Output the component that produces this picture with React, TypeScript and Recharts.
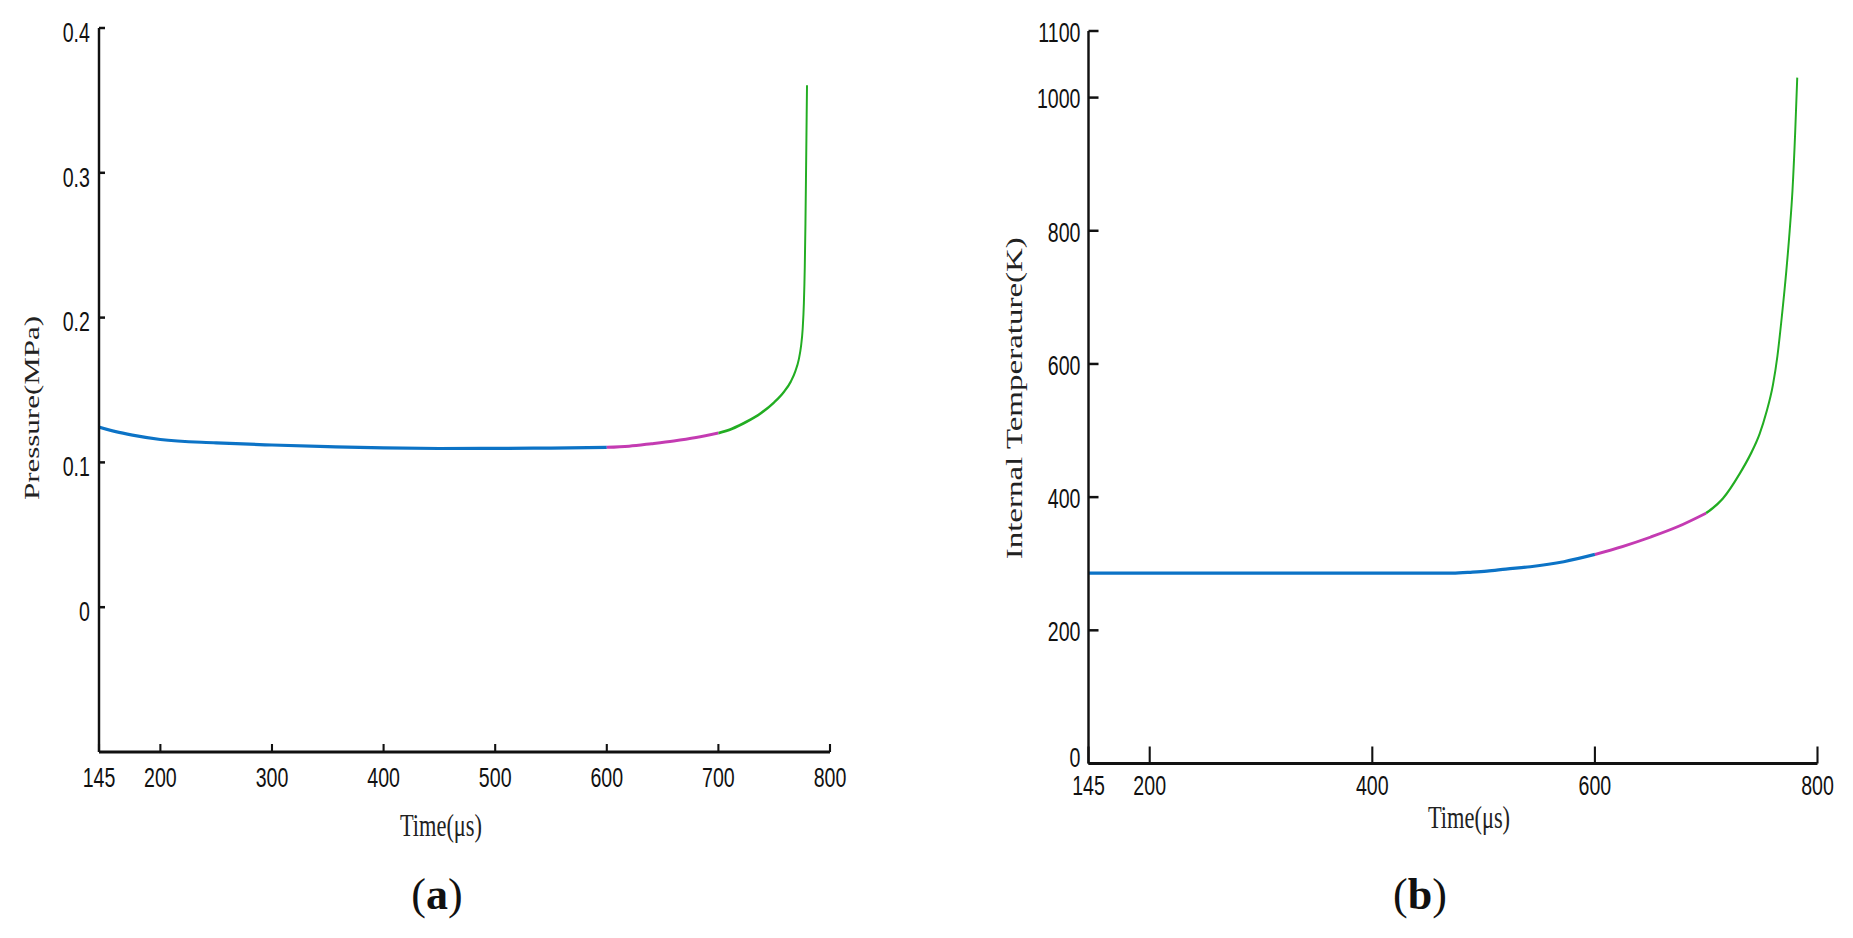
import { LineChart, Line, XAxis, YAxis } from 'recharts'

// The source figure is squeezed horizontally, so each panel is drawn wider and scaled in x
const SQUISH = 0.7
const H = 938
const X_AXIS_H = 100

const BLUE = '#0c73c6'
const PINK = '#c43bb2'
const GREEN = '#22ad22'

const TICK_FONT = "'Liberation Sans', Arial, sans-serif"
const TITLE_FONT = "'Liberation Serif', 'Times New Roman', serif"

// (a) Pressure
const timeTicksA = [145, 200, 300, 400, 500, 600, 700, 800]
const pressureTicks = [0, 0.1, 0.2, 0.3, 0.4]
const pressureBlueT = [145, 160, 175, 200, 250, 300, 350, 400, 450, 500, 550, 600]
const pressureBlueV = [0.1244, 0.1212, 0.1188, 0.1158, 0.1135, 0.112, 0.1109, 0.11, 0.1096, 0.1097, 0.1099, 0.1104]
const pressurePinkT = [600, 620, 640, 660, 680, 700]
const pressurePinkV = [0.1104, 0.1112, 0.1129, 0.1148, 0.1172, 0.1203]
const pressureGreenT = [700, 712, 725, 738, 750, 759, 765, 769, 772, 774, 775.5, 776.6, 777.4, 778, 778.6, 779.1, 779.4]
const pressureGreenV = [0.1203, 0.1232, 0.128, 0.134, 0.1415, 0.149, 0.156, 0.163, 0.171, 0.18, 0.192, 0.21, 0.235, 0.265, 0.305, 0.34, 0.3605]

// (b) Internal temperature
const timeTicksB = [145, 200, 400, 600, 800]
const tempTicks = [0, 200, 400, 600, 800, 1000, 1100]
const tempBlueT = [145, 200, 300, 400, 472, 490, 503, 520, 542, 572, 600]
const tempBlueV = [286, 286, 286, 286, 286, 287.5, 289, 292, 295.5, 303, 314]
const tempPinkT = [600, 625, 650, 675, 700]
const tempPinkV = [314, 326, 340, 356, 376]
const tempGreenT = [700, 715, 730, 740, 748, 754, 760, 764, 768, 772, 775, 777.5, 780, 781.8]
const tempGreenV = [376, 398, 435, 465, 495, 527, 569, 612, 672, 740, 800, 860, 950, 1030]

const zip = (t: number[], v: number[]) => t.map((x, i) => ({ t: x, v: v[i] }))

function YTick(props: any) {
  const { x, y, payload, format, dy, zeroDy } = props
  const shift = payload.value === 0 ? zeroDy : dy
  return (
    <text
      x={x}
      y={y + shift}
      textAnchor="end"
      dominantBaseline="central"
      fontFamily={TICK_FONT}
      fontSize={28}
      fill="#111"
    >
      {format(payload.value)}
    </text>
  )
}

function YTitle(props: any) {
  const { viewBox, text, fromAxis, shift, size } = props
  if (!viewBox) return null
  const cx = viewBox.x + viewBox.width - fromAxis
  const cy = viewBox.y + viewBox.height / 2 + shift
  return (
    <text
      x={cx}
      y={cy}
      transform={`rotate(-90 ${cx} ${cy})`}
      textAnchor="middle"
      dominantBaseline="central"
      fontFamily={TITLE_FONT}
      fontSize={size}
      fill="#222"
    >
      {text}
    </text>
  )
}

function XTitle(props: any) {
  const { viewBox, text, dx, baseline, size } = props
  if (!viewBox) return null
  return (
    <text
      x={viewBox.x + viewBox.width / 2 + dx}
      y={baseline}
      textAnchor="middle"
      fontFamily={TITLE_FONT}
      fontSize={size}
      fill="#222"
    >
      {text}
    </text>
  )
}

interface Series {
  data: { t: number; v: number }[]
  color: string
  width: number
}

interface PanelProps {
  left: number
  width: number
  yAxisW: number
  plotLeft: number
  plotWidth: number
  plotTop: number
  plotBottom: number
  xTicks: number[]
  yTicks: number[]
  yDomain: [number, number]
  yFormat: (v: number) => string
  series: Series[]
  yTitle: string
  yTitleSize: number
  yTitleFromAxis: number
  yTitleShift: number
  xTitleDx: number
  xTitleBaseline: number
  yTickSize: number
  yTickGap: number
  yTickDy: number
  yZeroDy: number
  xTickSize: number
  xTickGap: number
}

function Panel(p: PanelProps) {
  return (
    <div
      style={{
        position: 'absolute',
        left: p.left,
        top: 0,
        transform: `scaleX(${SQUISH})`,
        transformOrigin: '0 0',
      }}
    >
      <LineChart
        width={p.width}
        height={H}
        margin={{
          top: p.plotTop,
          right: p.width - p.plotLeft - p.plotWidth,
          bottom: H - p.plotBottom - X_AXIS_H,
          left: p.plotLeft - p.yAxisW,
        }}
      >
        <XAxis
          type="number"
          dataKey="t"
          domain={[145, 800]}
          ticks={p.xTicks}
          interval={0}
          height={X_AXIS_H}
          allowDataOverflow
          tickSize={-p.xTickSize}
          tickMargin={p.xTickSize + p.xTickGap}
          axisLine={{ stroke: '#111', strokeWidth: 3 }}
          tickLine={{ stroke: '#111', strokeWidth: 3 }}
          tick={{ fontSize: 28, fill: '#111', fontFamily: TICK_FONT }}
          label={<XTitle text="Time(μs)" dx={p.xTitleDx} baseline={p.xTitleBaseline} size={32} />}
        />
        <YAxis
          type="number"
          domain={p.yDomain}
          ticks={p.yTicks}
          interval={0}
          width={p.yAxisW}
          allowDataOverflow
          tickSize={-p.yTickSize}
          tickMargin={p.yTickSize + p.yTickGap}
          axisLine={{ stroke: '#111', strokeWidth: 3.5 }}
          tickLine={{ stroke: '#111', strokeWidth: 2.5 }}
          tick={<YTick format={p.yFormat} dy={p.yTickDy} zeroDy={p.yZeroDy} />}
          label={
            <YTitle
              text={p.yTitle}
              fromAxis={p.yTitleFromAxis}
              shift={p.yTitleShift}
              size={p.yTitleSize}
            />
          }
        />
        {p.series.map((s, i) => (
          <Line
            key={i}
            data={s.data}
            dataKey="v"
            type="monotone"
            stroke={s.color}
            strokeWidth={s.width}
            dot={false}
            activeDot={false}
            isAnimationActive={false}
          />
        ))}
      </LineChart>
    </div>
  )
}

export default function App() {
  const pressureSeries: Series[] = [
    { data: zip(pressureBlueT, pressureBlueV), color: BLUE, width: 3.2 },
    { data: zip(pressurePinkT, pressurePinkV), color: PINK, width: 3 },
    { data: zip(pressureGreenT, pressureGreenV), color: GREEN, width: 2.8 },
  ]
  const tempSeries: Series[] = [
    { data: zip(tempBlueT, tempBlueV), color: BLUE, width: 3.2 },
    { data: zip(tempPinkT, tempPinkV), color: PINK, width: 3 },
    { data: zip(tempGreenT, tempGreenV), color: GREEN, width: 2.8 },
  ]

  return (
    <div
      style={{
        position: 'absolute',
        left: 0,
        top: 0,
        width: 1853,
        height: H,
        overflow: 'hidden',
        background: '#fff',
      }}
    >
      <Panel
        left={0}
        width={1216}
        yAxisW={100}
        plotLeft={99 / SQUISH}
        plotWidth={731 / SQUISH}
        plotTop={28}
        plotBottom={752}
        xTicks={timeTicksA}
        yTicks={pressureTicks}
        yDomain={[-0.1, 0.4]}
        yFormat={(v) => (v === 0 ? '0' : v.toFixed(1))}
        series={pressureSeries}
        yTitle="Pressure(MPa)"
        yTitleSize={31}
        yTitleFromAxis={95.7}
        yTitleShift={18}
        xTitleDx={-33.6}
        xTitleBaseline={836}
        yTickSize={8.6}
        yTickGap={12.9}
        yTickDy={4}
        yZeroDy={4}
        xTickSize={8}
        xTickGap={15}
      />
      <Panel
        left={950}
        width={1280}
        yAxisW={120}
        plotLeft={138.5 / SQUISH}
        plotWidth={729 / SQUISH}
        plotTop={31}
        plotBottom={763.5}
        xTicks={timeTicksB}
        yTicks={tempTicks}
        yDomain={[0, 1100]}
        yFormat={(v) => String(v)}
        series={tempSeries}
        yTitle="Internal Temperature(K)"
        yTitleSize={33}
        yTitleFromAxis={106.4}
        yTitleShift={1}
        xTitleDx={22.9}
        xTitleBaseline={828}
        yTickSize={14.3}
        yTickGap={11.4}
        yTickDy={1}
        yZeroDy={-6}
        xTickSize={17}
        xTickGap={12}
      />
      <svg
        width={1853}
        height={H}
        style={{ position: 'absolute', left: 0, top: 0, pointerEvents: 'none' }}
      >
        <text x={437} y={909} textAnchor="middle" fontFamily={TITLE_FONT} fontSize={44} fill="#111">
          (<tspan fontWeight="bold">a</tspan>)
        </text>
        <text x={1420} y={909} textAnchor="middle" fontFamily={TITLE_FONT} fontSize={44} fill="#111">
          (<tspan fontWeight="bold">b</tspan>)
        </text>
      </svg>
    </div>
  )
}
